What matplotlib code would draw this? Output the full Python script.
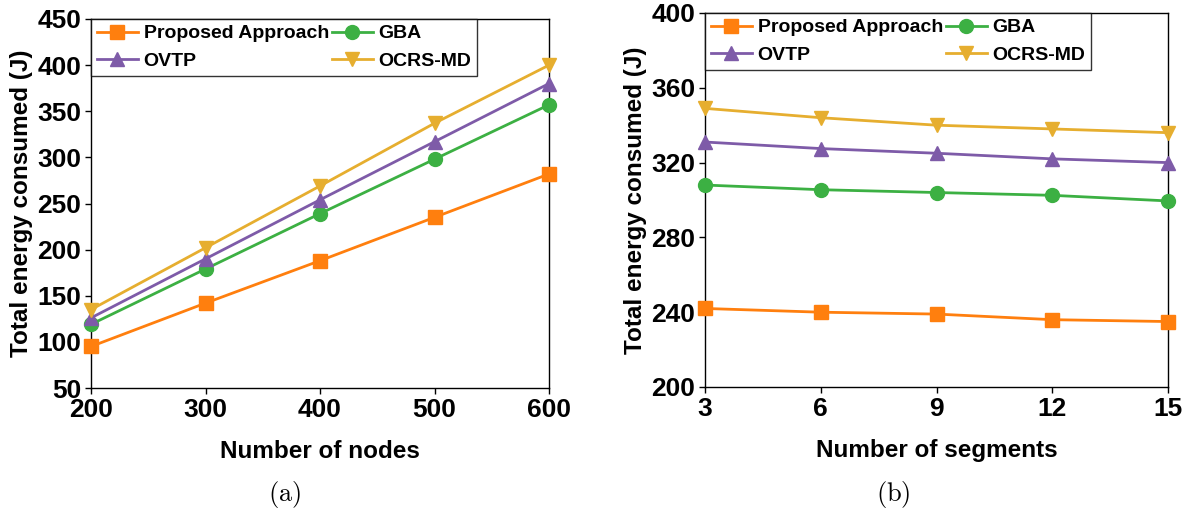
import matplotlib
matplotlib.use("Agg")
import matplotlib.pyplot as plt

plt.rcParams['font.family'] = ['Liberation Sans', 'DejaVu Sans']
plt.rcParams['font.weight'] = 'bold'
plt.rcParams['mathtext.fontset'] = 'cm'

# ---- data ----
nodes = [200, 300, 400, 500, 600]
prop_a = [95, 142, 188, 235, 282]
gba_a = [119, 179, 239, 298, 357]
ovtp_a = [126, 190, 254, 317, 380]
ocrs_a = [135, 202, 269, 337, 400]

segments = [3, 6, 9, 12, 15]
prop_b = [242, 240, 239, 236, 235]
gba_b = [308, 305.5, 304, 302.5, 299.5]
ovtp_b = [331, 327.5, 325, 322, 320]
ocrs_b = [349, 344, 340, 338, 336]

yticks_a = [50, 100, 150, 200, 250, 300, 350, 400, 450]
yticks_b = [200, 240, 280, 320, 360, 400]

names = ['Proposed Approach', 'GBA', 'OVTP', 'OCRS-MD']
colors = ['#FF7F0E', '#3CB043', '#7E5BA8', '#E6AE2F']
markers = ['s', 'o', '^', 'v']

fig = plt.figure(figsize=(11.91, 5.18), dpi=100)
axa = fig.add_axes([91/1191, 1-388/518, 458/1191, 369/518])
axb = fig.add_axes([705/1191, 1-387/518, 463/1191, 374/518])


def draw(ax, x, series, yticks, xlabel):
    lines = []
    for ys, c, m, n in zip(series, colors, markers, names):
        ln, = ax.plot(x, ys, color=c, marker=m, markersize=10, linewidth=2,
                      label=n, clip_on=False, zorder=3)
        lines.append(ln)
    ax.set_xlim(x[0], x[-1])
    ax.set_xticks(x)
    ax.set_ylim(yticks[0], yticks[-1])
    ax.set_yticks(yticks)
    ax.tick_params(direction='out', length=4, width=1, labelsize=19, pad=3)
    for lab in ax.get_xticklabels() + ax.get_yticklabels():
        lab.set_fontweight('bold')
    for s in ax.spines.values():
        s.set_linewidth(1)
        s.set_color('black')
    ax.set_xlabel(xlabel, fontsize=17.5, fontweight='bold', labelpad=13)
    ax.set_ylabel('Total energy consumed (J)', fontsize=17.5, fontweight='bold', labelpad=3)
    order = [0, 2, 1, 3]
    leg = ax.legend([lines[i] for i in order], [names[i] for i in order],
                    ncol=2, loc='upper left', bbox_to_anchor=(0, 1),
                    borderaxespad=0, fancybox=False, frameon=True,
                    edgecolor='black', handlelength=2.1,
                    handletextpad=0.3, columnspacing=0.15, labelspacing=0.5,
                    borderpad=0.3, prop={'weight': 'bold', 'size': 14})
    leg.get_frame().set_linewidth(1)
    leg.set_zorder(5)


draw(axa, nodes, [prop_a, gba_a, ovtp_a, ocrs_a], yticks_a, 'Number of nodes')
draw(axb, segments, [prop_b, gba_b, ovtp_b, ocrs_b], yticks_b, 'Number of segments')

fig.text(285/1191, 1-495/518, r'$\mathrm{(a)}$', fontsize=19, ha='center', va='center')
fig.text(893/1191, 1-495/518, r'$\mathrm{(b)}$', fontsize=19, ha='center', va='center')

fig.savefig('out.png', dpi=100)
